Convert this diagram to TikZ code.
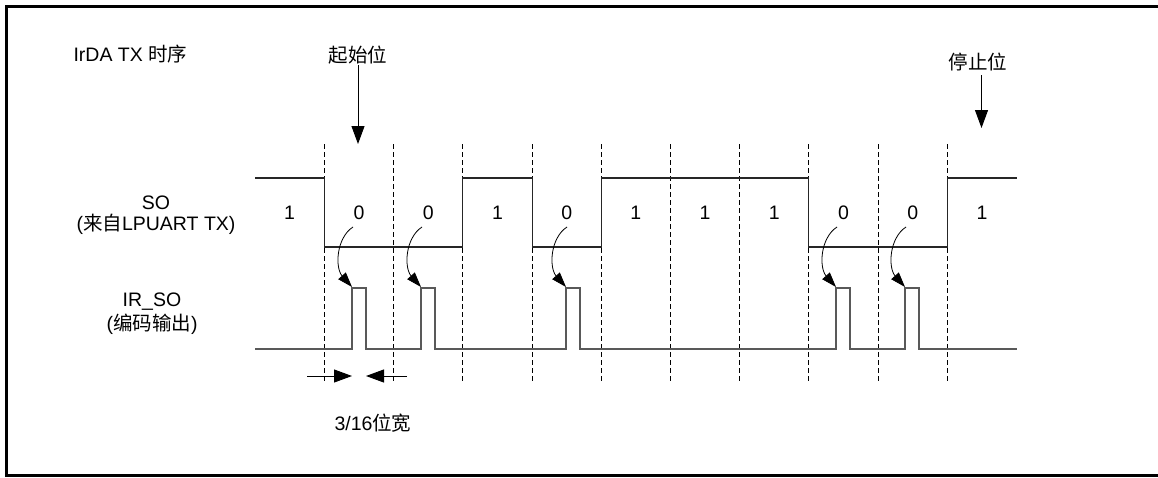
\documentclass[tikz,border=0pt]{standalone}
\usepackage{fontspec}
\setmainfont{Liberation Sans}
\newfontfamily\cjk{Noto Sans CJK SC}
\usetikzlibrary{arrows.meta}

\begin{document}
\begin{tikzpicture}[x=1pt,y=-1pt,font=\fontsize{19.5}{23}\selectfont,
  sowave/.style={line width=1.1pt,color=black!85},
  irwave/.style={line width=1.1pt,color=black!65},
  bitline/.style={line width=0.9pt,dash pattern=on 5pt off 3pt},
  bigarrow/.style={line width=1pt,-{Triangle[length=18pt,width=13pt]}},
  curvearrow/.style={line width=0.8pt,-{Triangle[length=15pt,width=10pt]}}]
\useasboundingbox (0,0) rectangle (1158,477);
\draw[line width=3pt] (1160,6) -- (6.5,6) -- (6.5,475.5) -- (1160,475.5);
\node[anchor=west] (title) at (70,54) {IrDA TX {\cjk 时序}};
\node (so) at (156,203) {SO};
\node (sofrom) at (156,224) {({\cjk 来自}LPUART TX)};
\node (irso) at (152,302) {IR\_SO};
\node (irsoout) at (152,324) {({\cjk 编码输出})};
\draw[bitline] (324.5,144) -- (324.5,383);
\draw[bitline] (393.7,144) -- (393.7,383);
\draw[bitline] (462.9,144) -- (462.9,383);
\draw[bitline] (532.1,144) -- (532.1,383);
\draw[bitline] (601.3,144) -- (601.3,383);
\draw[bitline] (670.5,144) -- (670.5,383);
\draw[bitline] (739.7,144) -- (739.7,383);
\draw[bitline] (808.9,144) -- (808.9,383);
\draw[bitline] (878.1,144) -- (878.1,383);
\draw[bitline] (947.3,144) -- (947.3,383);
\draw[sowave] (255,178) -- (324.5,178) -- (324.5,247) -- (462.9,247) -- (462.9,178) -- (532.1,178) -- (532.1,247) -- (601.3,247) -- (601.3,178) -- (808.9,178) -- (808.9,247) -- (947.3,247) -- (947.3,178) -- (1017,178);
\draw[irwave] (255,349) -- (352,349) -- (352,288) -- (366,288) -- (366,349) -- (421,349) -- (421,288) -- (435,288) -- (435,349) -- (566,349) -- (566,288) -- (580,288) -- (580,349) -- (836,349) -- (836,288) -- (850,288) -- (850,349) -- (905,349) -- (905,288) -- (919,288) -- (919,349) -- (1017,349);
\node (b0) at (289.6,213) {1};
\node (b1) at (359.1,213) {0};
\node (b2) at (428.3,213) {0};
\node (b3) at (497.5,213) {1};
\node (b4) at (566.7,213) {0};
\node (b5) at (635.9,213) {1};
\node (b6) at (705.1,213) {1};
\node (b7) at (774.3,213) {1};
\node (b8) at (843.5,213) {0};
\node (b9) at (912.7,213) {0};
\node (b10) at (982,213) {1};
\draw[curvearrow] (353,227) .. controls (336,238) and (335,268) .. (352,287);
\draw[curvearrow] (422,227) .. controls (405,238) and (404,268) .. (421,287);
\draw[curvearrow] (567,227) .. controls (550,238) and (549,268) .. (566,287);
\draw[curvearrow] (837,227) .. controls (820,238) and (819,268) .. (836,287);
\draw[curvearrow] (906,227) .. controls (889,238) and (888,268) .. (905,287);
\node[inner sep=1pt] (startbit) at (358,55) {\cjk 起始位};
\coordinate (starttip) at (358,144);
\draw[bigarrow] (startbit.south -| starttip) -- (starttip);
\node[inner sep=1pt] (stopbit) at (978,62) {\cjk 停止位};
\coordinate (stoptip) at (981.5,128);
\draw[bigarrow] (stopbit.south -| stoptip) ++(0,3) -- (stoptip);
\coordinate (dimleft) at (307,376);
\coordinate (dimlefttip) at (352,376);
\coordinate (dimright) at (407,376);
\coordinate (dimrighttip) at (366,376);
\draw[bigarrow] (dimleft) -- (dimlefttip);
\draw[bigarrow] (dimright) -- (dimrighttip);
\node (pulsewidth) at (373,423) {3/16{\cjk 位宽}};
\end{tikzpicture}
\end{document}
